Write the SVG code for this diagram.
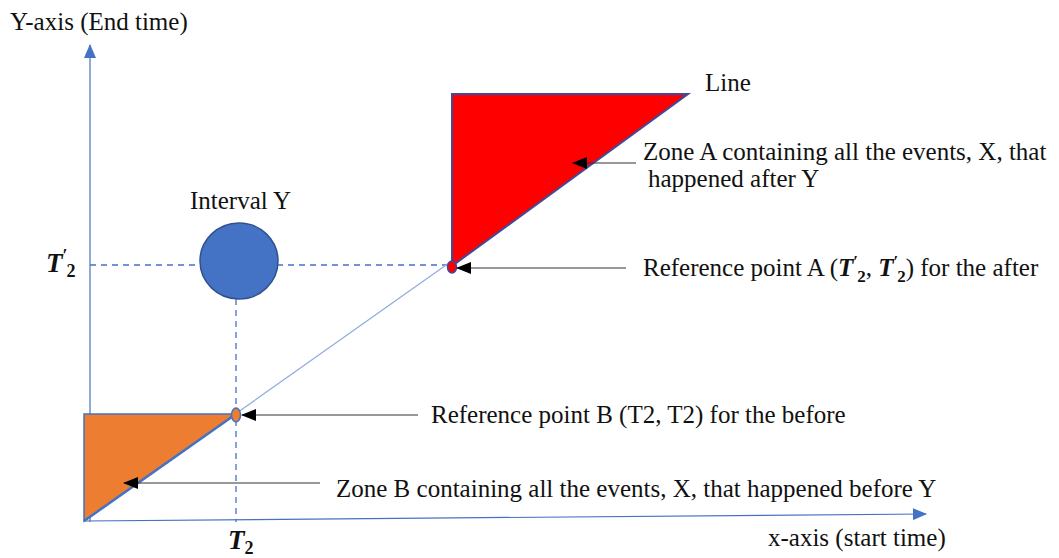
<svg xmlns="http://www.w3.org/2000/svg" width="1059" height="558" viewBox="0 0 1059 558">
<style>
.t{font-family:"Liberation Serif","Times New Roman",serif;font-size:25px;fill:#111}
.m{font-family:"Liberation Serif","Times New Roman",serif;font-style:italic;font-weight:bold;font-size:27px;fill:#111}
.axis{stroke:#4472C4;stroke-width:1.2;fill:none}
.dash{stroke:#4472C4;stroke-width:1.3;stroke-dasharray:6 5;fill:none}
.ptr{stroke:#333;stroke-width:1.2;fill:none;marker-end:url(#ah)}
</style>
<defs>
<marker id="ah" markerWidth="15" markerHeight="12" refX="14" refY="6" orient="auto" markerUnits="userSpaceOnUse">
<path d="M0,0 L15,6 L0,12 Z" fill="#000"/>
</marker>
<marker id="ax" markerWidth="14" markerHeight="12" refX="13" refY="6" orient="auto" markerUnits="userSpaceOnUse">
<path d="M0,0 L14,6 L0,12 Z" fill="#4472C4"/>
</marker>
</defs>
<rect width="1059" height="558" fill="#fff"/>

<g id="axes">
<line class="axis" x1="90" y1="522" x2="90" y2="45" marker-end="url(#ax)"/>
<line class="axis" x1="84" y1="521" x2="926" y2="514" marker-end="url(#ax)"/>
<text class="t" x="10" y="30">Y-axis (End time)</text>
<text class="t" x="768" y="546">x-axis (start time)</text>
</g>

<g id="guides">
<line class="dash" x1="90" y1="265" x2="452" y2="265"/>
<line class="dash" x1="236" y1="299" x2="236" y2="522"/>
<line x1="84" y1="521" x2="688" y2="94" stroke="#8FAADC" stroke-width="1.2"/>
</g>

<g id="zoneB">
<polygon points="84,521 84,414 236,414" fill="#ED7D31" stroke="#4472C4" stroke-width="1.5"/>
<line x1="84" y1="521" x2="236" y2="414" stroke="#4472C4" stroke-width="2.5"/>
</g>

<g id="zoneA">
<polygon points="452,266 452,94 688,94" fill="#FF0000" stroke="#3F4A9A" stroke-width="2"/>
</g>

<g id="intervalY">
<ellipse cx="239" cy="261" rx="39" ry="38" fill="#4472C4" stroke="#2F528F" stroke-width="1.5"/>
<text class="t" x="190" y="209">Interval Y</text>
</g>

<g id="pointB">
<ellipse cx="236" cy="415" rx="4.5" ry="7" fill="#ED7D31" stroke="#4472C4" stroke-width="1.5"/>
</g>
<g id="pointA">
<ellipse cx="452" cy="267" rx="4.5" ry="6" fill="#FF0000" stroke="#3F4A9A" stroke-width="1.5"/>
</g>

<g id="labels">
<text class="t" x="705" y="91">Line</text>
<text class="t" x="643" y="160">Zone A containing all the events, X, that</text>
<text class="t" x="648" y="187">happened after Y</text>
<text class="t" x="643" y="276">Reference point A (<tspan font-weight="bold" font-style="italic">T</tspan><tspan font-weight="bold" dy="-9" font-size="17">′</tspan><tspan font-weight="bold" dx="-1" dy="15" font-size="17">2</tspan><tspan dy="-6">, </tspan><tspan font-weight="bold" font-style="italic">T</tspan><tspan font-weight="bold" dy="-9" font-size="17">′</tspan><tspan font-weight="bold" dx="-1" dy="15" font-size="17">2</tspan><tspan dy="-6">) for the after</tspan></text>
<text class="t" x="431" y="423">Reference point B (T2, T2) for the before</text>
<text class="t" x="336" y="497" font-size="26">Zone B containing all the events, X, that happened before Y</text>
<text class="m" x="46" y="272">T<tspan font-style="normal" dy="-10" font-size="18">′</tspan><tspan font-style="normal" dx="-1" dy="15" font-size="18">2</tspan></text>
<text class="m" x="228" y="549">T<tspan font-style="normal" dy="5" font-size="18">2</tspan></text>
</g>

<g id="connectors">
<line class="ptr" x1="636" y1="163" x2="573" y2="163"/>
<line class="ptr" x1="626" y1="268" x2="457" y2="268"/>
<line class="ptr" x1="418" y1="415" x2="242" y2="415"/>
<line class="ptr" x1="320" y1="483" x2="124" y2="483"/>
</g>
</svg>
